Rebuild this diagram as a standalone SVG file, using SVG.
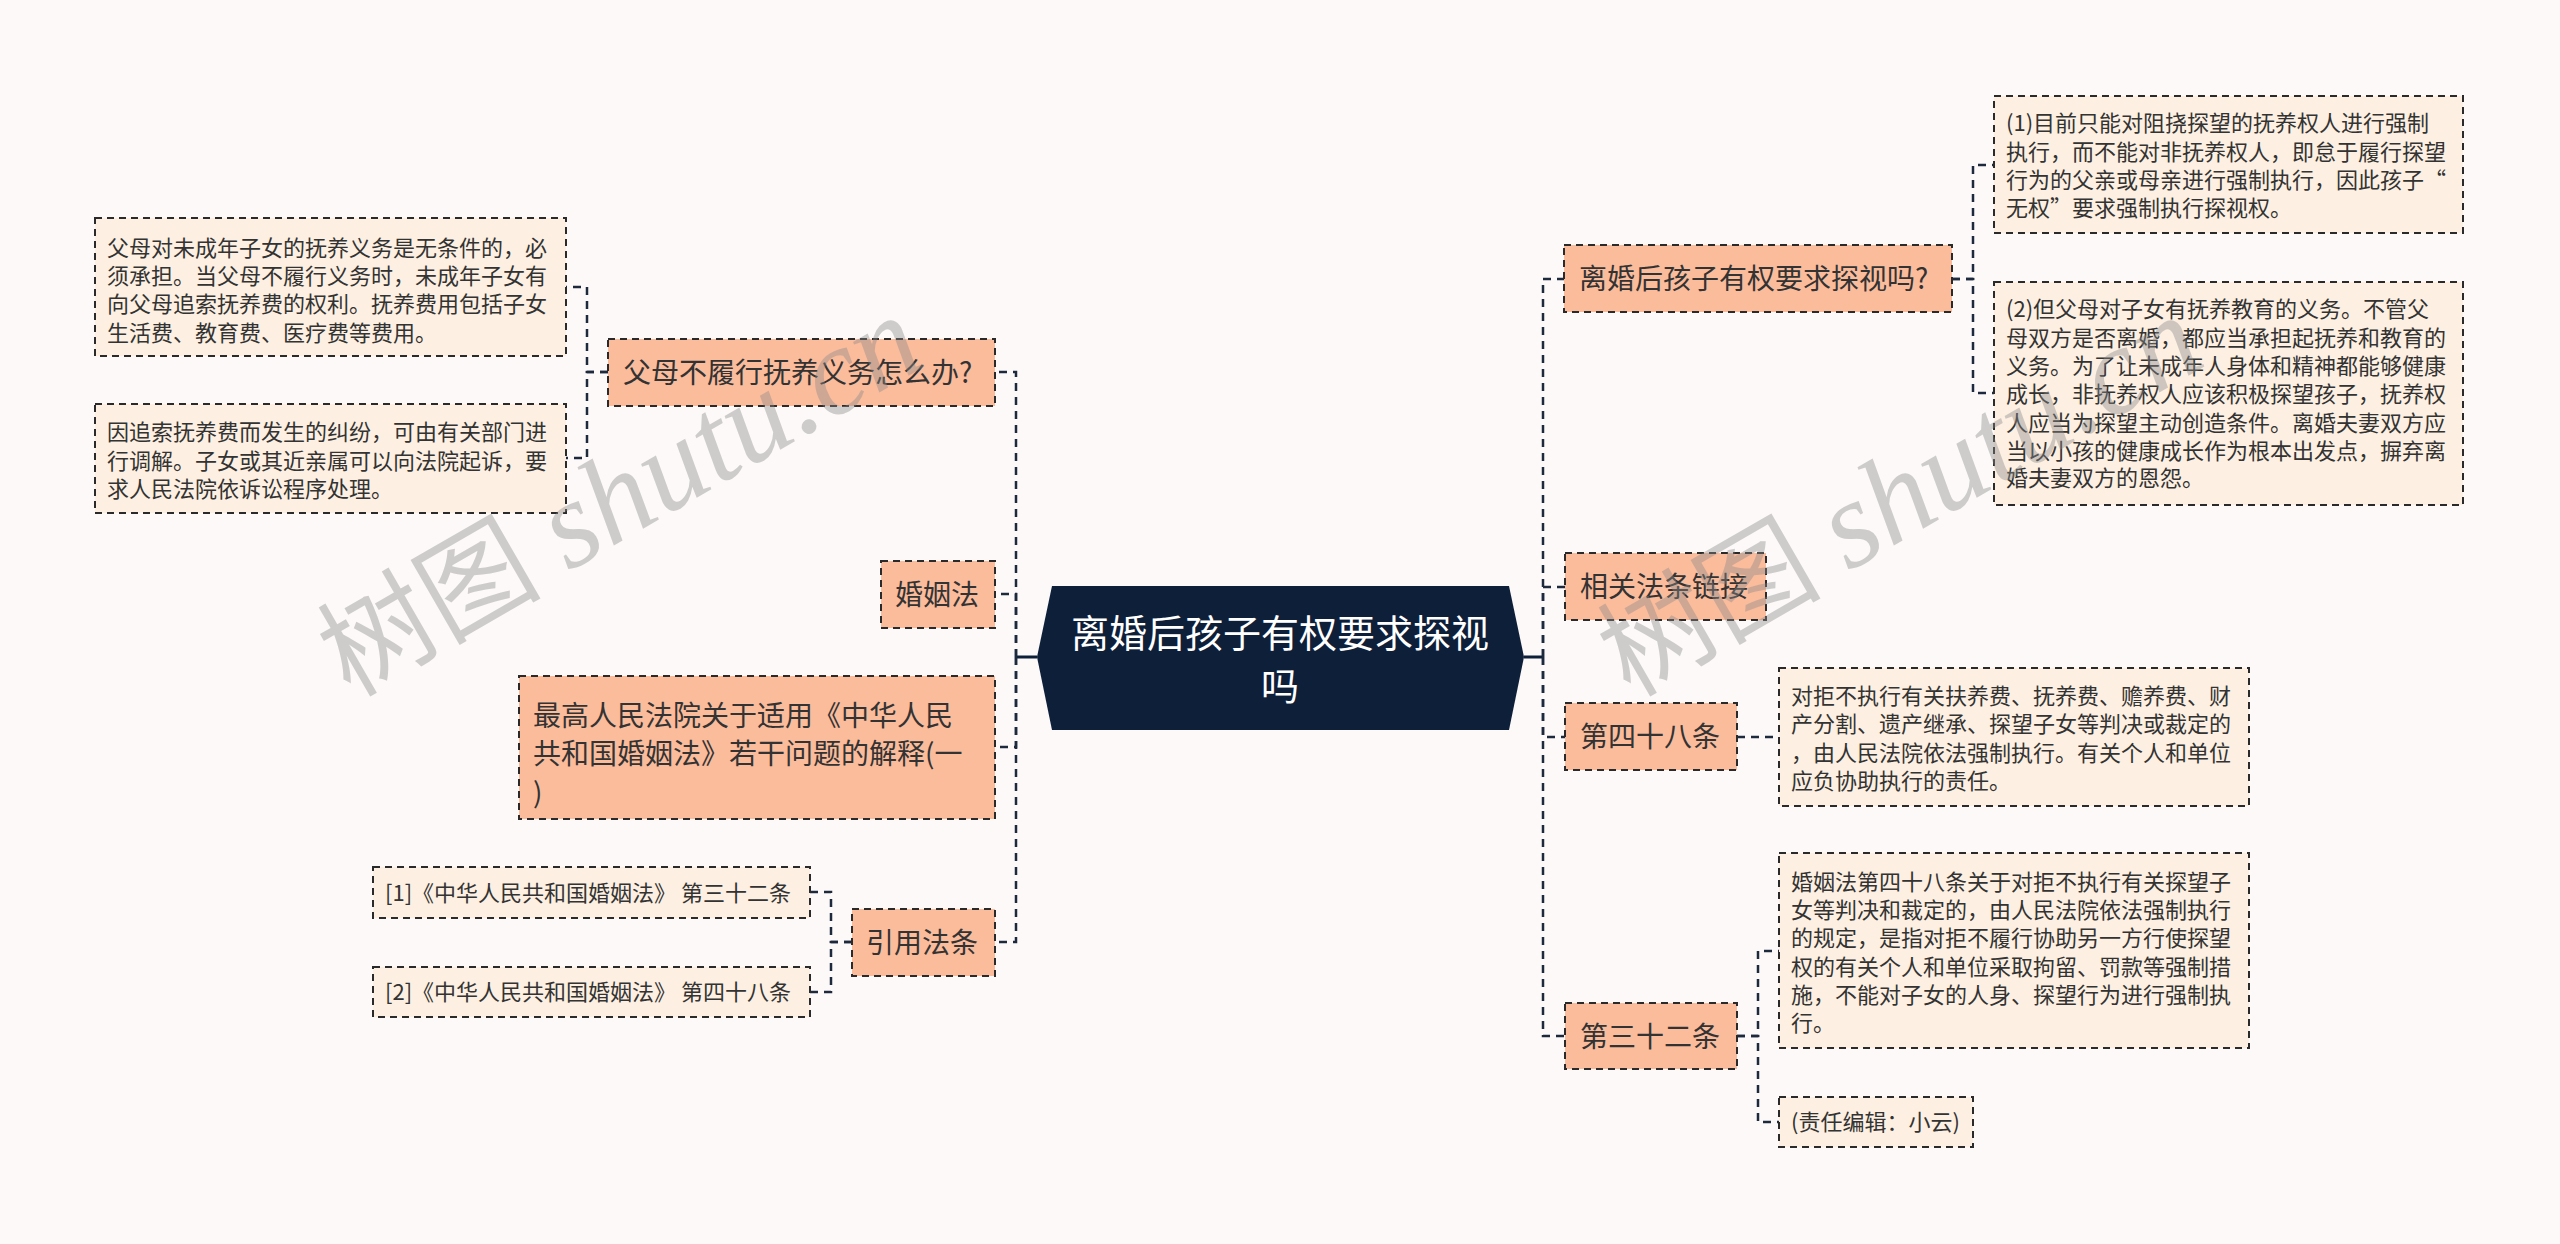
<svg xmlns="http://www.w3.org/2000/svg" width="2560" height="1244" viewBox="0 0 2560 1244">
<style>
.l1{fill:#fbbc9c;stroke:#2a2a2a;stroke-width:2;stroke-dasharray:7 5}
.leaf{fill:#fdf0e2;stroke:#2a2a2a;stroke-width:2;stroke-dasharray:7 5}
text{font-family:"Noto Sans CJK SC","Liberation Sans",sans-serif;fill:#333}
.t1{font-size:28px}
.t2{font-size:22px}
.tc{font-size:38px;fill:#fff;text-anchor:middle}
.conn{fill:none;stroke:#1d2a3e;stroke-width:2.5;stroke-dasharray:8 6}
.main{fill:none;stroke:#0e1f3a;stroke-width:3}
.wm{font-family:"Liberation Serif","Noto Sans CJK SC",serif;fill:#8a8a8a;opacity:0.4}
</style>
<rect width="2560" height="1244" fill="#fcf9f8"/>
<g id="connectors">
<path class="main" d="M1037 657 H1016"/>
<path class="main" d="M1524 657 H1543"/>
<path class="conn" d="M1016 657 V372 H995"/>
<path class="conn" d="M1016 657 V594 H995"/>
<path class="conn" d="M1016 657 V747 H995"/>
<path class="conn" d="M1016 657 V942 H995"/>
<path class="conn" d="M608 372 H587 V287 H566"/>
<path class="conn" d="M608 372 H587 V458 H566"/>
<path class="conn" d="M852 942 H831 V892 H810"/>
<path class="conn" d="M852 942 H831 V992 H810"/>
<path class="conn" d="M1543 657 V279 H1565"/>
<path class="conn" d="M1543 657 V587 H1565"/>
<path class="conn" d="M1543 657 V737 H1565"/>
<path class="conn" d="M1543 657 V1036 H1565"/>
<path class="conn" d="M1952 279 H1973 V165 H1994"/>
<path class="conn" d="M1952 279 H1973 V393 H1994"/>
<path class="conn" d="M1737 737 H1779"/>
<path class="conn" d="M1737 1036 H1758 V951 H1779"/>
<path class="conn" d="M1737 1036 H1758 V1122 H1779"/>
</g>
<g id="center">
<polygon points="1037,657 1052,586 1509,586 1524,657 1509,730 1052,730" fill="#0e1f3a"/>
<text class="tc" x="1280" y="647">离婚后孩子有权要求探视</text>
<text class="tc" x="1280" y="700">吗</text>
</g>
<g id="n-fumu">
<rect class="l1" x="608" y="339" width="387" height="67"/>
<text class="t1" x="623" y="383">父母不履行抚养义务怎么办?</text>
</g>
<g id="n-fumu-a">
<rect class="leaf" x="95" y="218" width="471" height="138"/>
<text class="t2"><tspan x="107" y="256">父母对未成年子女的抚养义务是无条件的，必</tspan><tspan x="107" y="284">须承担。当父母不履行义务时，未成年子女有</tspan><tspan x="107" y="312">向父母追索抚养费的权利。抚养费用包括子女</tspan><tspan x="107" y="341">生活费、教育费、医疗费等费用。</tspan></text>
</g>
<g id="n-fumu-b">
<rect class="leaf" x="95" y="404" width="471" height="109"/>
<text class="t2"><tspan x="107" y="440">因追索抚养费而发生的纠纷，可由有关部门进</tspan><tspan x="107" y="469">行调解。子女或其近亲属可以向法院起诉，要</tspan><tspan x="107" y="497">求人民法院依诉讼程序处理。</tspan></text>
</g>
<g id="n-hunyinfa">
<rect class="l1" x="881" y="561" width="114" height="67"/>
<text class="t1" x="895" y="605">婚姻法</text>
</g>
<g id="n-zuigao">
<rect class="l1" x="519" y="676" width="476" height="143"/>
<text class="t1"><tspan x="533" y="726">最高人民法院关于适用《中华人民</tspan><tspan x="533" y="764">共和国婚姻法》若干问题的解释(一</tspan><tspan x="533" y="803">)</tspan></text>
</g>
<g id="n-yinyong">
<rect class="l1" x="852" y="909" width="143" height="67"/>
<text class="t1" x="866" y="953">引用法条</text>
</g>
<g id="n-ref1">
<rect class="leaf" x="373" y="867" width="437" height="51"/>
<text class="t2" x="385" y="901">[1]《中华人民共和国婚姻法》 第三十二条</text>
</g>
<g id="n-ref2">
<rect class="leaf" x="373" y="967" width="437" height="50"/>
<text class="t2" x="385" y="1000">[2]《中华人民共和国婚姻法》 第四十八条</text>
</g>
<g id="n-tanshi">
<rect class="l1" x="1564" y="245" width="388" height="67"/>
<text class="t1" x="1579" y="289">离婚后孩子有权要求探视吗?</text>
</g>
<g id="n-tanshi-1">
<rect class="leaf" x="1994" y="96" width="469" height="137"/>
<text class="t2"><tspan x="2006" y="131">(1)目前只能对阻挠探望的抚养权人进行强制</tspan><tspan x="2006" y="160">执行，而不能对非抚养权人，即怠于履行探望</tspan><tspan x="2006" y="188">行为的父亲或母亲进行强制执行，因此孩子“</tspan><tspan x="2006" y="216">无权”要求强制执行探视权。</tspan></text>
</g>
<g id="n-tanshi-2">
<rect class="leaf" x="1994" y="282" width="469" height="223"/>
<text class="t2"><tspan x="2006" y="317">(2)但父母对子女有抚养教育的义务。不管父</tspan><tspan x="2006" y="346">母双方是否离婚，都应当承担起抚养和教育的</tspan><tspan x="2006" y="374">义务。为了让未成年人身体和精神都能够健康</tspan><tspan x="2006" y="402">成长，非抚养权人应该积极探望孩子，抚养权</tspan><tspan x="2006" y="431">人应当为探望主动创造条件。离婚夫妻双方应</tspan><tspan x="2006" y="459">当以小孩的健康成长作为根本出发点，摒弃离</tspan><tspan x="2006" y="486">婚夫妻双方的恩怨。</tspan></text>
</g>
<g id="n-xiangguan">
<rect class="l1" x="1565" y="553" width="201" height="67"/>
<text class="t1" x="1580" y="597">相关法条链接</text>
</g>
<g id="n-48">
<rect class="l1" x="1565" y="703" width="172" height="67"/>
<text class="t1" x="1580" y="747">第四十八条</text>
</g>
<g id="n-48-text">
<rect class="leaf" x="1779" y="668" width="470" height="138"/>
<text class="t2"><tspan x="1791" y="704">对拒不执行有关扶养费、抚养费、赡养费、财</tspan><tspan x="1791" y="732">产分割、遗产继承、探望子女等判决或裁定的</tspan><tspan x="1791" y="761">，由人民法院依法强制执行。有关个人和单位</tspan><tspan x="1791" y="789">应负协助执行的责任。</tspan></text>
</g>
<g id="n-32">
<rect class="l1" x="1565" y="1003" width="172" height="66"/>
<text class="t1" x="1580" y="1047">第三十二条</text>
</g>
<g id="n-32-text">
<rect class="leaf" x="1779" y="853" width="470" height="195"/>
<text class="t2"><tspan x="1791" y="890">婚姻法第四十八条关于对拒不执行有关探望子</tspan><tspan x="1791" y="918">女等判决和裁定的，由人民法院依法强制执行</tspan><tspan x="1791" y="946">的规定，是指对拒不履行协助另一方行使探望</tspan><tspan x="1791" y="975">权的有关个人和单位采取拘留、罚款等强制措</tspan><tspan x="1791" y="1003">施，不能对子女的人身、探望行为进行强制执</tspan><tspan x="1791" y="1031">行。</tspan></text>
</g>
<g id="n-editor">
<rect class="leaf" x="1779" y="1097" width="194" height="50"/>
<text class="t2" x="1791" y="1130">(责任编辑：小云)</text>
</g>
<g id="watermark">
<text class="wm" transform="translate(350 698) rotate(-30)"><tspan font-size="112">树图 </tspan><tspan font-size="124" font-style="italic">shutu.cn</tspan></text>
<text class="wm" transform="translate(1630 698) rotate(-30)"><tspan font-size="112">树图 </tspan><tspan font-size="124" font-style="italic">shutu.cn</tspan></text>
</g>
</svg>
